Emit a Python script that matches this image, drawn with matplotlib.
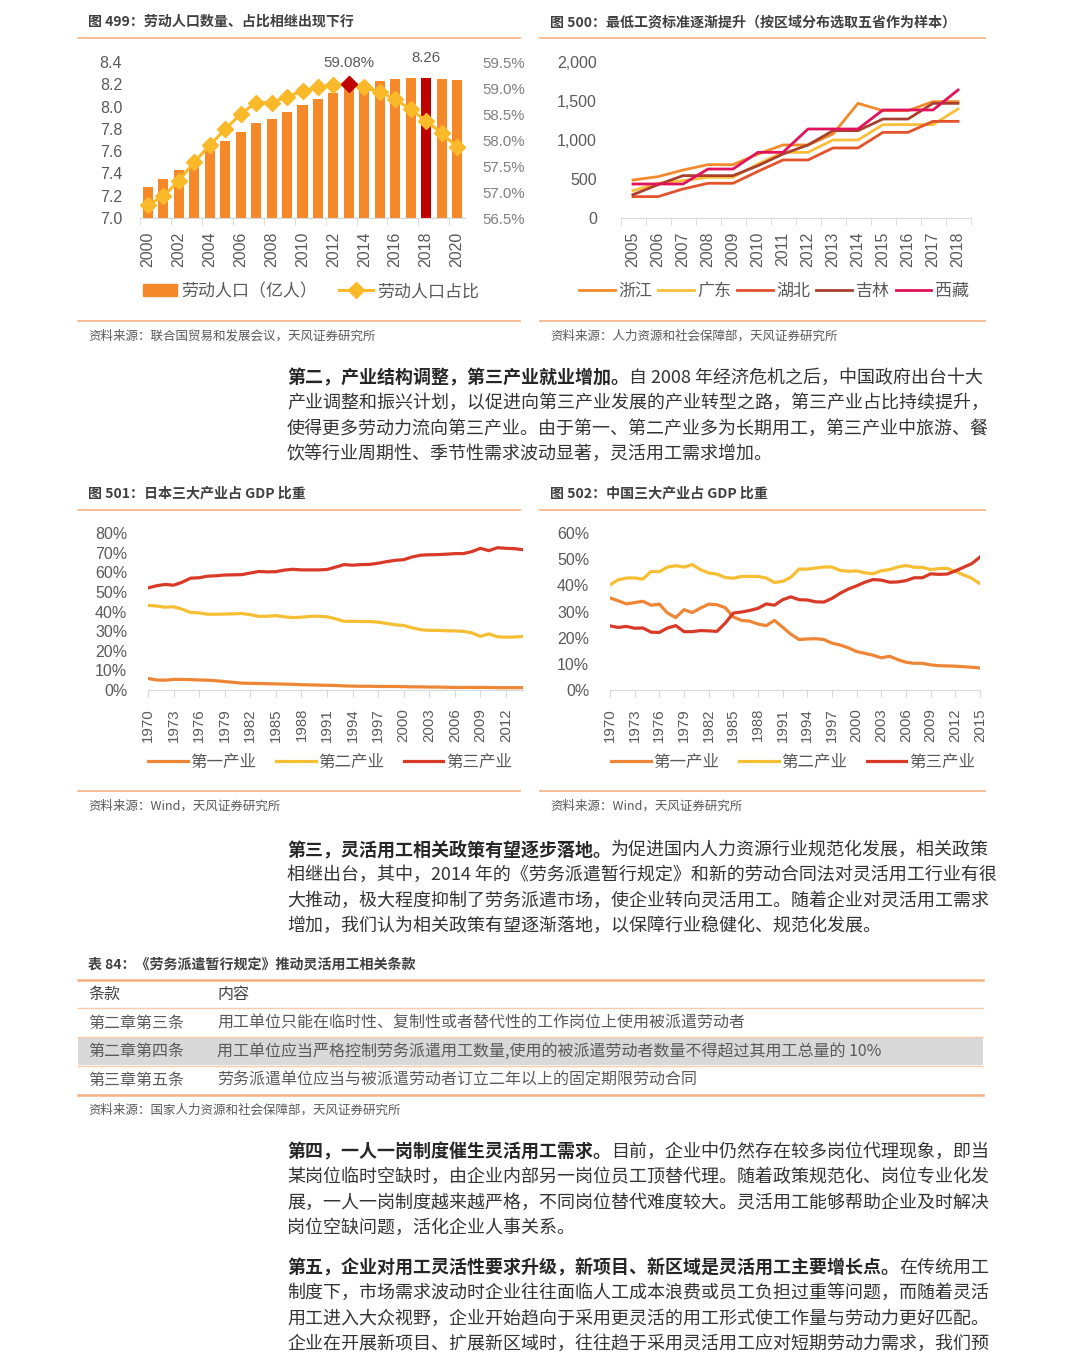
import matplotlib
matplotlib.use("Agg")
import matplotlib.pyplot as plt
from matplotlib.lines import Line2D
from matplotlib.patches import Rectangle
import numpy as np

W, H = 1080, 1359

# ---------------- data ----------------
LABOR_YEARS = [str(y) for y in range(2000, 2021)]
LABOR_POP = [7.28, 7.35, 7.43, 7.51, 7.60, 7.69, 7.77, 7.85, 7.89, 7.95, 8.01,
             8.07, 8.12, 8.18, 8.21, 8.23, 8.25, 8.26, 8.26, 8.25, 8.24]
LABOR_SHARE = [56.75, 56.92, 57.22, 57.58, 57.90, 58.21, 58.50, 58.72, 58.72, 58.83, 58.94,
               59.01, 59.06, 59.08, 59.01, 58.93, 58.78, 58.59, 58.37, 58.13, 57.87]
RED_BAR = 18
RED_DOT = 13

WAGE_YEARS = [str(y) for y in range(2005, 2019)]
WAGE_ZJ = [487, 530, 615, 684, 684, 820, 936, 936, 1077, 1470, 1376, 1376, 1492, 1492]
WAGE_GD = [350, 445, 479, 521, 521, 692, 842, 842, 1000, 1000, 1197, 1197, 1197, 1398]
WAGE_HB = [274, 274, 372, 445, 445, 598, 744, 744, 898, 898, 1098, 1098, 1239, 1239]
WAGE_JL = [299, 427, 543, 543, 543, 671, 820, 936, 1120, 1120, 1269, 1269, 1470, 1470]
WAGE_XZ = [436, 436, 436, 628, 628, 842, 842, 1141, 1141, 1141, 1385, 1385, 1385, 1641]
WAGE_NAMES = ["浙江", "广东", "湖北", "吉林", "西藏"]

JP_YEARS = [str(y) for y in range(1970, 2015)]
JP_PRI = [5.9, 5.1, 5.0, 5.4, 5.4, 5.3, 5.1, 5.0, 4.7, 4.3, 3.9, 3.5, 3.4, 3.3, 3.2,
          3.1, 3.0, 2.9, 2.7, 2.6, 2.5, 2.4, 2.3, 2.1, 2.0, 1.9, 1.9, 1.8, 1.8, 1.8,
          1.7, 1.6, 1.6, 1.5, 1.5, 1.4, 1.3, 1.3, 1.3, 1.3, 1.3, 1.2, 1.2, 1.2, 1.2]
JP_SEC = [43.1, 42.8, 42.2, 42.4, 41.2, 39.5, 39.3, 38.6, 38.6, 38.7, 38.8, 39.0, 38.4, 37.5, 37.6,
          37.9, 37.3, 36.9, 37.1, 37.5, 37.6, 37.3, 36.3, 35.0, 35.0, 34.9, 34.9, 34.6, 33.9, 33.2,
          32.9, 31.7, 30.7, 30.4, 30.4, 30.2, 30.1, 29.9, 29.1, 27.3, 28.6, 27.1, 26.9, 27.0, 27.3]
JP_TER = [52.0, 53.1, 53.8, 53.4, 54.9, 57.0, 57.2, 58.0, 58.2, 58.6, 58.7, 58.8, 59.6, 60.4, 60.2,
          60.3, 61.1, 61.5, 61.2, 61.2, 61.2, 61.4, 62.6, 63.9, 63.6, 63.9, 64.0, 64.6, 65.4, 66.1,
          66.4, 67.8, 68.7, 68.9, 69.0, 69.2, 69.5, 69.5, 70.5, 72.2, 71.0, 72.5, 72.2, 72.0, 71.5]

CN_YEARS = [str(y) for y in range(1970, 2016)]
CN_PRI = [35.2, 34.1, 32.9, 33.4, 33.9, 32.4, 32.8, 29.4, 27.7, 30.7, 29.6, 31.3, 32.8, 32.6, 31.5, 27.9,
          26.6, 26.3, 25.2, 24.6, 26.6, 24.0, 21.3, 19.3, 19.5, 19.6, 19.3, 17.9, 17.2, 16.1, 14.7,
          14.0, 13.3, 12.3, 12.9, 11.6, 10.6, 10.2, 10.2, 9.6, 9.3, 9.2, 9.1, 8.9, 8.7, 8.4]
CN_SEC = [40.2, 42.1, 42.8, 42.8, 42.4, 45.3, 45.2, 47.0, 47.5, 47.0, 47.9, 46.0, 44.7, 44.3, 43.0, 42.7,
          43.4, 43.4, 43.4, 42.8, 41.1, 41.5, 43.1, 46.2, 46.2, 46.6, 47.0, 47.0, 45.7, 45.4, 45.5,
          44.8, 44.4, 45.6, 46.0, 47.0, 47.6, 46.9, 46.9, 46.0, 46.4, 46.5, 45.3, 44.0, 42.7, 40.6]
CN_TER = [24.5, 23.9, 24.3, 23.6, 23.7, 22.1, 22.0, 23.7, 24.6, 22.3, 22.3, 22.7, 22.6, 22.4, 25.5, 29.4,
          29.8, 30.4, 31.2, 32.9, 32.4, 34.5, 35.6, 34.5, 34.4, 33.7, 33.6, 35.0, 37.0, 38.6, 39.8,
          41.2, 42.2, 42.0, 41.2, 41.3, 41.8, 42.9, 42.9, 44.4, 44.2, 44.3, 45.5, 46.9, 48.3, 50.8]
SECTORS = ["第一产业", "第二产业", "第三产业"]

TABLE_HEAD = ["条款", "内容"]
TABLE_ROWS = [["第二章第三条", "用工单位只能在临时性、复制性或者替代性的工作岗位上使用被派遣劳动者"],
              ["第二章第四条", "用工单位应当严格控制劳务派遣用工数量,使用的被派遣劳动者数量不得超过其用工总量的 10%"],
              ["第三章第五条", "劳务派遣单位应当与被派遣劳动者订立二年以上的固定期限劳动合同"]]

# ---------------- style ----------------
SANS = ["Liberation Sans", "Noto Sans CJK SC", "DejaVu Sans"]
CJK = ["Noto Sans CJK SC", "DejaVu Sans"]
plt.rcParams["font.family"] = SANS
TICK_C = "#595959"
AXIS_C = "#D9D9D9"
SEP_C = "#F4B183"
PT = 72 / 100  # px -> pt at dpi 100

fig = plt.figure(figsize=(W / 100, H / 100), dpi=100)
fig.patch.set_facecolor("white")


def box(x0, y0, x1, y1):
    return fig.add_axes([x0 / W, 1 - y1 / H, (x1 - x0) / W, (y1 - y0) / H])


def txt(x, y, s, px, **kw):
    kw.setdefault("family", CJK)
    kw.setdefault("va", "center")
    return fig.text(x / W, 1 - y / H, s, fontsize=px * PT, **kw)


def hline(y, x0, x1, color=SEP_C, lw=1.2):
    fig.add_artist(Line2D([x0 / W, x1 / W], [1 - y / H, 1 - y / H], color=color, lw=lw,
                          transform=fig.transFigure))


def style_ax(ax):
    for s in ["top", "right", "left"]:
        ax.spines[s].set_visible(False)
    ax.spines["bottom"].set_color(AXIS_C)
    ax.tick_params(axis="y", length=0, colors=TICK_C, labelsize=16 * PT)
    ax.tick_params(axis="x", which="both", colors=AXIS_C, labelcolor=TICK_C, labelsize=16 * PT)
    ax.set_facecolor("none")


def legend_at(ax, handles, labels, cx, cy, px, hl, tp, cs):
    ax.legend(handles, labels, loc="center", bbox_to_anchor=(cx / W, 1 - cy / H),
              bbox_transform=fig.transFigure, ncol=len(labels), frameon=False,
              prop={"family": CJK, "size": px * PT}, handlelength=hl, handletextpad=tp,
              columnspacing=cs, labelcolor=TICK_C, borderaxespad=0)


def chart_frame(x0, x1, title, src, y_title, y_sep, y_src):
    txt(x0 + 10, y_title, title, 14, weight="bold", color="#404040")
    hline(y_title + 16, x0, x1)
    hline(y_sep, x0, x1)
    txt(x0 + 10, y_src, src, 12.5, color=TICK_C)


# ---------------- chart 499 ----------------
chart_frame(78, 520, "图 499：劳动人口数量、占比相继出现下行", "资料来源：联合国贸易和发展会议，天风证券研究所", 22, 321, 336)
ax = box(140.3, 62, 464.7, 218)
style_ax(ax)
xs = np.arange(len(LABOR_YEARS))
bar_colors = ["#C00000" if i == RED_BAR else "#F5892A" for i in xs]
bars = ax.bar(xs, LABOR_POP, width=0.65, color=bar_colors, bottom=0)
ax.set_ylim(7.0, 8.4)
ax.set_xlim(-0.5, len(xs) - 0.5)
ax.set_yticks(np.arange(7.0, 8.41, 0.2))
ax.set_yticklabels([f"{v:.1f}" for v in np.arange(7.0, 8.41, 0.2)])
ax.tick_params(axis="y", pad=13)
ax.set_xticks(xs[::2])
ax.set_xticklabels(LABOR_YEARS[::2], rotation=90)
ax.set_xticks(np.arange(-0.5, len(xs), 2), minor=True)
ax.tick_params(axis="x", which="major", length=0, pad=10)
ax.tick_params(axis="x", which="minor", length=5)
ax.annotate(f"{LABOR_POP[RED_BAR]:.2f}", (RED_BAR, LABOR_POP[RED_BAR]), xytext=(0, 9),
            textcoords="offset points", ha="center", va="bottom", fontsize=15 * PT, color=TICK_C)
ax2 = ax.twinx()
ax2.set_ylim(56.5, 59.5)
for s in ax2.spines.values():
    s.set_visible(False)
ax2.plot(xs, LABOR_SHARE, color="#F9B928", lw=2.2, marker="D", ms=8, mec="#F9B928", mfc="#F9B928")
ax2.plot([RED_DOT], [LABOR_SHARE[RED_DOT]], ls="none", marker="D", ms=8, color="#C00000")
ax2.set_yticks(np.arange(56.5, 59.51, 0.5))
ax2.set_yticklabels([f"{v:.1f}%" for v in np.arange(56.5, 59.51, 0.5)])
ax2.tick_params(axis="y", length=0, colors="#7F7F7F", labelsize=15 * PT, pad=13)
ax2.annotate(f"{LABOR_SHARE[RED_DOT]:.2f}%", (RED_DOT, LABOR_SHARE[RED_DOT]), xytext=(0, 10),
             textcoords="offset points", ha="center", va="bottom", fontsize=15 * PT, color=TICK_C)
line_h = Line2D([], [], color="#F9B928", lw=2.2, marker="D", ms=8)
bar_h = plt.Rectangle((0, 0), 1, 1, color="#F5892A")
legend_at(ax, [bar_h, line_h], ["劳动人口（亿人）", "劳动人口占比"], 311, 291, 17, 2.0, 0.25, 1.3)

# ---------------- chart 500 ----------------
chart_frame(540, 985, "图 500：最低工资标准逐渐提升（按区域分布选取五省作为样本）", "资料来源：人力资源和社会保障部，天风证券研究所", 22, 321, 336)
ax = box(620.5, 62, 970.5, 218)
style_ax(ax)
xs = np.arange(len(WAGE_YEARS))
wage_colors = ["#F28A2C", "#FBBE3A", "#E3522A", "#A8402C", "#E3125C"]
handles = []
for vals, c in zip([WAGE_ZJ, WAGE_GD, WAGE_HB, WAGE_JL, WAGE_XZ], wage_colors):
    h, = ax.plot(xs, vals, color=c, lw=2.0)
    handles.append(h)
ax.set_ylim(0, 2000)
ax.set_xlim(-0.5, len(xs) - 0.5)
ax.set_yticks([0, 500, 1000, 1500, 2000])
ax.set_yticklabels(["0", "500", "1,000", "1,500", "2,000"])
ax.tick_params(axis="y", pad=17)
ax.set_xticks(xs)
ax.set_xticklabels(WAGE_YEARS, rotation=90)
ax.set_xticks(np.arange(-0.5, len(xs), 1), minor=True)
ax.tick_params(axis="x", which="major", length=0, pad=10)
ax.tick_params(axis="x", which="minor", length=5)
legend_at(ax, handles, WAGE_NAMES, 774, 291, 17, 2.1, 0.2, 0.35)

# ---------------- paragraphs ----------------
PARA_PX = 18
BOLD_C = "#262626"
BODY_C = "#333333"


def paragraph(x, y0, bold, first_rest, lines, gap=25.3):
    t = txt(x, y0, bold, PARA_PX, weight="bold", color=BOLD_C)
    r = fig.canvas.get_renderer()
    bb = t.get_window_extent(r)
    txt(bb.x1, y0, first_rest, PARA_PX, color=BODY_C)
    for i, s in enumerate(lines):
        txt(x, y0 + gap * (i + 1), s, PARA_PX, color=BODY_C)


paragraph(287, 378, "第二，产业结构调整，第三产业就业增加。", "自 2008 年经济危机之后，中国政府出台十大",
          ["产业调整和振兴计划，以促进向第三产业发展的产业转型之路，第三产业占比持续提升，",
           "使得更多劳动力流向第三产业。由于第一、第二产业多为长期用工，第三产业中旅游、餐",
           "饮等行业周期性、季节性需求波动显著，灵活用工需求增加。"])

# ---------------- chart 501 / 502 ----------------
sector_colors = ["#EE8636", "#F6BE32", "#D93A28"]


def sector_chart(x0, x1, ax_x0, ax_x1, title, years, series, ymax, step, legend_cx):
    chart_frame(x0, x1, title, "资料来源：Wind，天风证券研究所", 494, 791, 806)
    ax = box(ax_x0, 533, ax_x1, 690)
    style_ax(ax)
    xs = np.arange(len(years))
    hs = []
    for vals, c in zip(series, sector_colors):
        h, = ax.plot(xs, vals, color=c, lw=2.3)
        hs.append(h)
    ax.set_ylim(0, ymax)
    ax.set_xlim(0, len(years) - 1)
    ax.set_yticks(np.arange(0, ymax + 1, step))
    ax.set_yticklabels([f"{v}%" for v in range(0, ymax + 1, step)])
    ax.tick_params(axis="y", pad=15)
    ax.set_xticks(xs[::3])
    ax.set_xticklabels(years[::3], rotation=90)
    ax.tick_params(axis="x", which="major", length=5, pad=8, labelsize=15 * PT)
    for lab in ax.get_xticklabels():
        lab.set_clip_on(False)
    legend_at(ax, hs, SECTORS, legend_cx, 762, 16.5, 2.4, 0.15, 1.2)
    return ax


sector_chart(78, 520, 148, 523, "图 501：日本三大产业占 GDP 比重", JP_YEARS, [JP_PRI, JP_SEC, JP_TER], 80, 10, 330)
sector_chart(540, 985, 610, 980, "图 502：中国三大产业占 GDP 比重", CN_YEARS, [CN_PRI, CN_SEC, CN_TER], 60, 10, 793)

paragraph(287, 850, "第三，灵活用工相关政策有望逐步落地。", "为促进国内人力资源行业规范化发展，相关政策",
          ["相继出台，其中，2014 年的《劳务派遣暂行规定》和新的劳动合同法对灵活用工行业有很",
           "大推动，极大程度抑制了劳务派遣市场，使企业转向灵活用工。随着企业对灵活用工需求",
           "增加，我们认为相关政策有望逐渐落地，以保障行业稳健化、规范化发展。"])

# ---------------- table ----------------
txt(88, 965, "表 84：《劳务派遣暂行规定》推动灵活用工相关条款", 14, weight="bold", color="#404040")
fig.add_artist(Rectangle((78 / W, 1 - 1065 / H), (983 - 78) / W, 27 / H, color="#D9D9D9",
                         transform=fig.transFigure, lw=0))
hline(980, 78, 983, lw=1.8)
hline(1008, 78, 983, color="#F8CBAD", lw=1.0)
hline(1037, 78, 983, color="#F8CBAD", lw=1.0)
hline(1066, 78, 983, color="#F8CBAD", lw=1.0)
hline(1095, 78, 983, lw=1.8)
txt(88, 994, TABLE_HEAD[0], 16, color="#404040")
txt(217, 994, TABLE_HEAD[1], 16, color="#404040")
for i, (a, b) in enumerate(TABLE_ROWS):
    y = 1023 + 28.5 * i
    txt(88, y, a, 16, color="#595959")
    txt(217, y, b, 16, color="#595959")
txt(88, 1110, "资料来源：国家人力资源和社会保障部，天风证券研究所", 12.5, color=TICK_C)

paragraph(287, 1152, "第四，一人一岗制度催生灵活用工需求。", "目前，企业中仍然存在较多岗位代理现象，即当",
          ["某岗位临时空缺时，由企业内部另一岗位员工顶替代理。随着政策规范化、岗位专业化发",
           "展，一人一岗制度越来越严格，不同岗位替代难度较大。灵活用工能够帮助企业及时解决",
           "岗位空缺问题，活化企业人事关系。"])

paragraph(287, 1268, "第五，企业对用工灵活性要求升级，新项目、新区域是灵活用工主要增长点。", "在传统用工",
          ["制度下，市场需求波动时企业往往面临人工成本浪费或员工负担过重等问题，而随着灵活",
           "用工进入大众视野，企业开始趋向于采用更灵活的用工形式使工作量与劳动力更好匹配。",
           "企业在开展新项目、扩展新区域时，往往趋于采用灵活用工应对短期劳动力需求，我们预"])

fig.savefig("out.png", dpi=100)
